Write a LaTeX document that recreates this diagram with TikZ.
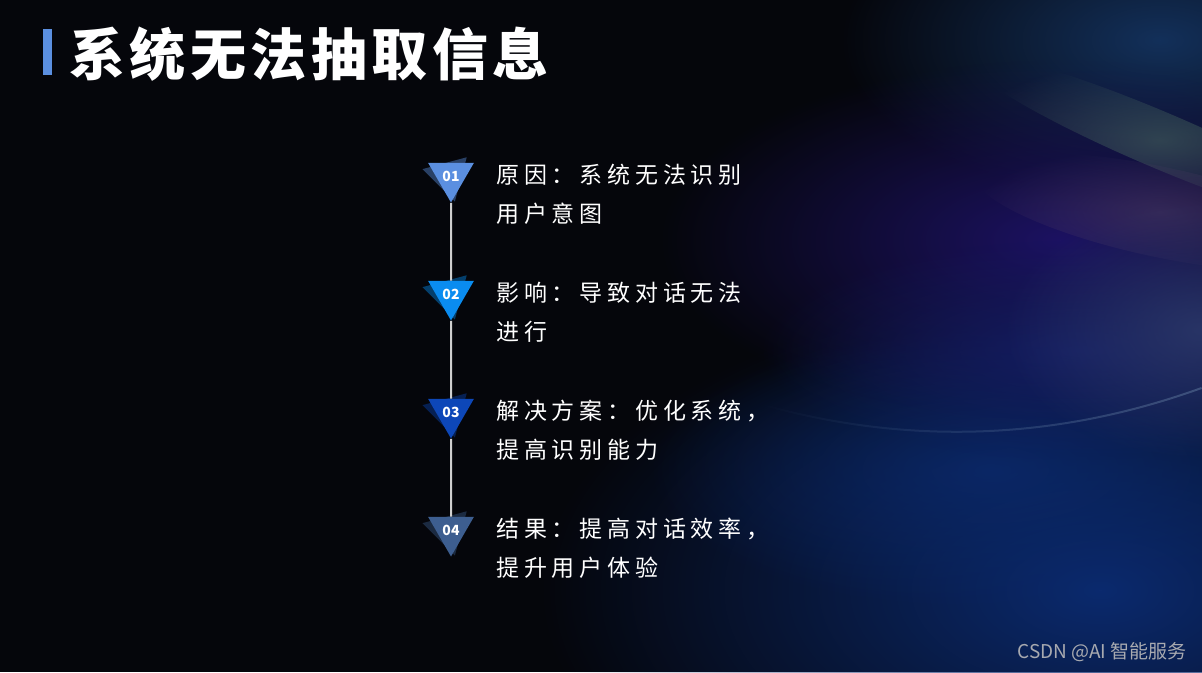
\documentclass[tikz,border=0pt]{standalone}
\usepackage{fontspec}
\newfontfamily\cjkbody[LetterSpace=21]{Noto Sans CJK SC}
\newfontfamily\cjktitle[LetterSpace=8]{Noto Sans CJK SC}
\newfontfamily\cjkplain{Noto Sans CJK SC}
\usetikzlibrary{positioning,shapes.geometric,fadings}
\definecolor{bgdark}{HTML}{05060B}
\definecolor{barblue}{HTML}{5B8FE0}
\definecolor{triA}{HTML}{5B8FE0}
\definecolor{triB}{HTML}{0A8CF0}
\definecolor{triC}{HTML}{0D47B8}
\definecolor{triD}{HTML}{3D5E90}
\definecolor{stemgray}{HTML}{CFCFCF}
\definecolor{glowblue}{HTML}{0B2A6E}
\definecolor{glowmid}{HTML}{15206A}
\definecolor{glowpurple}{HTML}{1C1262}
\definecolor{glowteal}{HTML}{13305A}
\definecolor{glowstreak}{HTML}{4A6A60}
\definecolor{glowpink}{HTML}{4A3A62}
\definecolor{glowsheen}{HTML}{2E3C6C}
\definecolor{arcline}{HTML}{6A86A8}
\definecolor{markgray}{HTML}{A8AAB0}
\tikzfading[name=toright, left color=transparent!100, right color=transparent!0]
\tikzfading[name=glowfade, inner color=transparent!0, outer color=transparent!100]
\begin{document}
\begin{tikzpicture}[x=1pt,y=-1pt,
    tri/.style={regular polygon, regular polygon sides=3, shape border rotate=180,
      minimum size=53pt, inner sep=0pt, text=white, font=\cjkplain\bfseries\fontsize{14}{14}\selectfont},
    trishadow/.style={regular polygon, regular polygon sides=3, shape border rotate=195,
      minimum size=53pt, inner sep=0pt},
    stem/.style={draw=stemgray, line width=2pt},
    itemtext/.style={align=left, inner sep=0pt, text=white,
      font=\cjkbody\fontsize{23}{39}\selectfont},
  ]
  \useasboundingbox (0,0) rectangle (1202,672);
  % Background
  \fill[bgdark] (0,0) rectangle (1202,672);
  \fill[glowblue, path fading=glowfade] (1100,590) ellipse [x radius=560, y radius=300];
  \fill[glowblue, path fading=glowfade, opacity=0.8] (990,470) ellipse [x radius=340, y radius=140];
  \fill[glowteal, path fading=glowfade] (1160,40) ellipse [x radius=320, y radius=160];
  \fill[glowpurple, path fading=glowfade] (1060,240) ellipse [x radius=400, y radius=180];
  \fill[glowmid, path fading=glowfade, opacity=0.8] (1080,350) ellipse [x radius=320, y radius=110];
  \fill[glowstreak, path fading=glowfade, opacity=0.55, rotate around={-23:(1160,140)}] (1160,140) ellipse [x radius=210, y radius=28];
  \fill[glowpink, path fading=glowfade, opacity=0.6, rotate around={-12:(1160,212)}] (1160,212) ellipse [x radius=190, y radius=45];
  \fill[glowsheen, path fading=glowfade, opacity=0.8] (1202,330) ellipse [x radius=200, y radius=130];
  \draw[arcline, line width=2pt, opacity=0.45, path fading=toright] (760,404) .. controls (930,452) and (1080,432) .. (1202,388);
  % Title
  \node[fill=barblue, minimum width=9pt, minimum height=46pt, inner sep=0pt] (bar) at (47.5,52) {};
  \node[right=17pt of bar, yshift=-2pt, inner sep=0pt, text=white, font=\cjktitle\bfseries\fontsize{56}{56}\selectfont] (title) {系统无法抽取信息};
  % Steps
  \coordinate (c1) at (451,176);
  \coordinate (c2) at (451,294);
  \coordinate (c3) at (451,412);
  \coordinate (c4) at (451,530);
  \node[trishadow, fill=triA!45!black] (s1) at ([xshift=-3pt]c1) {};
  \node[tri, fill=triA] (t1) at (c1) {01};
  \node[trishadow, fill=triB!45!black] (s2) at ([xshift=-3pt]c2) {};
  \node[tri, fill=triB] (t2) at (c2) {02};
  \node[trishadow, fill=triC!45!black] (s3) at ([xshift=-3pt]c3) {};
  \node[tri, fill=triC] (t3) at (c3) {03};
  \node[trishadow, fill=triD!45!black] (s4) at ([xshift=-3pt]c4) {};
  \node[tri, fill=triD] (t4) at (c4) {04};
  \draw[stem] (t1.south) -- (t2.north);
  \draw[stem] (t2.south) -- (t3.north);
  \draw[stem] (t3.south) -- (t4.north);
  % Texts
  \node[itemtext, right=45pt of t1.center, yshift=-18pt] (d1) {原因：系统无法识别\\用户意图};
  \node[itemtext, right=45pt of t2.center, yshift=-18pt] (d2) {影响：导致对话无法\\进行};
  \node[itemtext, right=45pt of t3.center, yshift=-18pt] (d3) {解决方案：优化系统，\\提高识别能力};
  \node[itemtext, right=45pt of t4.center, yshift=-18pt] (d4) {结果：提高对话效率，\\提升用户体验};
  % Watermark
  \node[anchor=east, inner sep=0pt, text=markgray, font=\cjkplain\fontsize{19}{19}\selectfont] (mark) at (1187,652) {CSDN @AI 智能服务};
\end{tikzpicture}
\end{document}
